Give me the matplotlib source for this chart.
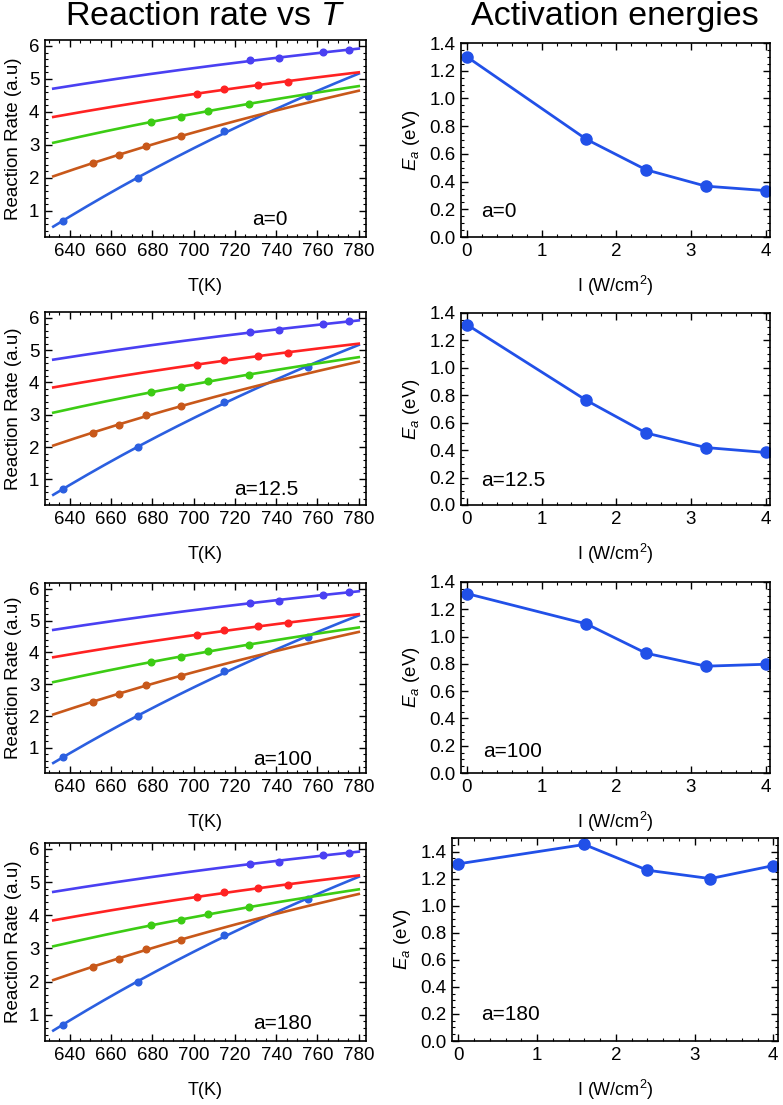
import numpy as np
import matplotlib
matplotlib.use("Agg")
import matplotlib.pyplot as plt
from matplotlib.ticker import MultipleLocator

plt.rcParams["font.family"] = ["Liberation Sans", "DejaVu Sans"]
plt.rcParams["mathtext.fontset"] = "custom"
plt.rcParams["mathtext.rm"] = "Liberation Sans"
plt.rcParams["mathtext.it"] = "Liberation Sans:italic"

# intensities (W/cm^2) -> one Arrhenius series each
intensities = [0, 1.6, 2.4, 3.2, 4.0]
series_colors = ["#2b5fe0", "#c8581a", "#3ccc14", "#ff2222", "#4a40f2"]

# measured points of the reaction rate panels (T in K, ln rate)
T_pts = [
    [636.8, 672.9, 714.9, 755.2],
    [651.2, 663.7, 676.9, 694.1],
    [679.3, 694.1, 707.0, 726.6],
    [701.7, 714.9, 731.1, 745.8],
    [727.1, 741.2, 762.7, 775.2],
]
rate_pts = [
    [0.70, 2.00, 3.41, 4.48],
    [2.45, 2.69, 2.98, 3.26],
    [3.70, 3.86, 4.04, 4.24],
    [4.54, 4.69, 4.83, 4.92],
    [5.56, 5.62, 5.81, 5.89],
]

a_labels = ["a=0", "a=12.5", "a=100", "a=180"]
Ea_a0 = [1.30, 0.705, 0.485, 0.367, 0.335]
Ea_a12 = [1.315, 0.763, 0.525, 0.419, 0.383]
Ea_a100 = [1.315, 1.093, 0.878, 0.783, 0.797]
Ea_a180 = [1.309, 1.452, 1.262, 1.200, 1.296]
Ea_all = [Ea_a0, Ea_a12, Ea_a100, Ea_a180]

W, H = 783, 1105
fig = plt.figure(figsize=(W / 100, H / 100), dpi=100)


def box(x0, x1, y0, y1):
    return [x0 / W, 1 - y1 / H, (x1 - x0) / W, (y1 - y0) / H]


left_boxes = [(45, 366, 40, 237), (45, 366, 312, 505), (45, 366, 583, 773), (45, 366, 843, 1041)]
right_boxes = [(461, 770, 43, 237), (461, 770, 313, 505), (461, 770, 582, 773), (452, 778, 838, 1041)]
left_text_pos = [(0.70, 0.09), (0.69, 0.08), (0.74, 0.07), (0.74, 0.09)]
right_text_pos = [(0.065, 0.13), (0.065, 0.13), (0.07, 0.11), (0.09, 0.13)]

T_line = np.linspace(632, 780, 200)


def style(ax):
    ax.tick_params(which="both", direction="in", top=True, right=True, labelsize=13.5, pad=4)
    ax.tick_params(which="major", length=5, width=1)
    ax.tick_params(which="minor", length=2.5, width=0.8)
    for s in ax.spines.values():
        s.set_linewidth(1.2)


for row in range(4):
    ax = fig.add_axes(box(*left_boxes[row]))
    for T, y, c in zip(T_pts, rate_pts, series_colors):
        T = np.array(T)
        # Arrhenius fit: ln k = A - B/T
        p = np.polyfit(1 / T, y, 1)
        ax.plot(T_line, np.polyval(p, 1 / T_line), color=c, lw=1.9)
        ax.plot(T, y, "o", color=c, ms=4.8)
    ax.set_xlim(628, 783.5)
    ax.set_ylim(0.21, 6.18)
    ax.xaxis.set_major_locator(MultipleLocator(20))
    ax.xaxis.set_minor_locator(MultipleLocator(5))
    ax.yaxis.set_major_locator(MultipleLocator(1))
    ax.yaxis.set_minor_locator(MultipleLocator(0.2))
    ax.set_xlabel("T(K)", fontsize=13, labelpad=13)
    ax.set_ylabel("Reaction Rate (a.u)", fontsize=13.5, labelpad=5)
    tx, ty = left_text_pos[row]
    ax.text(tx, ty, a_labels[row], transform=ax.transAxes, fontsize=15, ha="center", va="center")
    style(ax)

    ax2 = fig.add_axes(box(*right_boxes[row]))
    ax2.plot(intensities, Ea_all[row], "-o", color="#2150e8", lw=2, ms=8)
    ax2.set_xlim(-0.08, 4.06)
    ax2.set_ylim(0, 1.5 if row == 3 else 1.4)
    ax2.xaxis.set_major_locator(MultipleLocator(1))
    ax2.xaxis.set_minor_locator(MultipleLocator(0.2))
    ax2.yaxis.set_major_locator(MultipleLocator(0.2))
    ax2.yaxis.set_minor_locator(MultipleLocator(0.05))
    ax2.yaxis.set_major_formatter(matplotlib.ticker.FormatStrFormatter("%.1f"))
    ax2.set_xlabel("I (W/cm$^2$)", fontsize=13, labelpad=10)
    ax2.set_ylabel("$E_a$ (eV)", fontsize=13.5, labelpad=5)
    tx, ty = right_text_pos[row]
    ax2.text(tx, ty, a_labels[row], transform=ax2.transAxes, fontsize=15, ha="left", va="center")
    style(ax2)

fig.text(205 / W, 1 - 25 / H, "Reaction rate vs $T$", fontsize=24.5, ha="center", va="baseline")
fig.text(615 / W, 1 - 25 / H, "Activation energies", fontsize=24.5, ha="center", va="baseline")

fig.savefig("out.png", dpi=100)
